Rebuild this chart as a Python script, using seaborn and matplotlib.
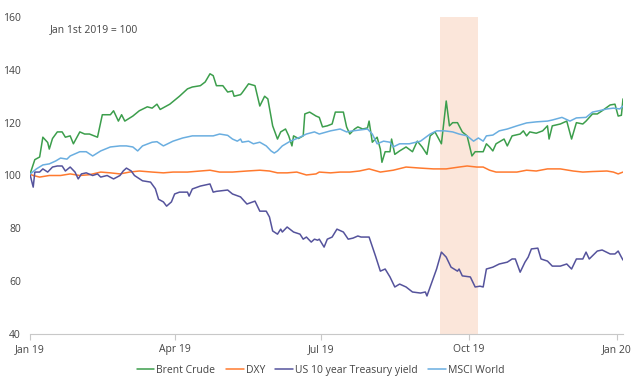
import pandas as pd
import seaborn as sns
import matplotlib.pyplot as plt

# days since Jan 1st 2019, index values (Jan 1st 2019 = 100)
brent_days = [0, 3, 6, 8, 11, 12, 14, 17, 20, 22, 25, 27, 31, 34, 37, 42, 45, 50, 52, 55,
              57, 59, 64, 68, 73, 76, 79, 81, 87, 93, 98, 101, 106, 109, 112, 114, 116, 120, 123, 126,
              127, 131, 132, 136, 140, 143, 146, 148, 151, 154, 156, 159, 161, 163, 164, 167, 170, 171, 174, 178,
              180, 182, 185, 188, 190, 195, 197, 199, 202, 204, 207, 210, 211, 213, 216, 218, 219, 221, 224, 225,
              227, 230, 234, 238, 241, 244, 247, 249, 252, 256, 259, 261, 263, 266, 269, 272, 275, 277, 282, 284,
              286, 288, 290, 295, 297, 300, 305, 307, 309, 311, 315, 319, 322, 323, 325, 330, 334, 337, 340, 344,
              346, 350, 353, 356, 361, 364, 366, 368, 369]
brent = [100.5, 106, 107, 114.5, 112.5, 110, 114, 116.5, 116.5, 114.5, 115, 112, 116.5, 115.7, 115.7, 114.5, 123, 123, 124.5, 120.6,
         123, 120.6, 122.5, 124.5, 126, 125.5, 127, 125, 127, 130, 132.8, 133.5, 134, 135.4, 138.5, 137.8, 134, 134, 131.6, 132,
         130, 130.6, 131.3, 134.7, 134, 126.3, 130, 129, 118.8, 113.8, 116.5, 117.6, 115, 111.2, 115, 114, 115, 123.3, 124, 122.5,
         122, 118.4, 118.8, 119.5, 124, 124, 118.4, 115.7, 117.6, 118.4, 117.6, 118, 120.6, 112.6, 114.5, 110, 105, 109, 109, 113.8,
         108, 109.3, 110.8, 109, 113, 110.8, 108, 115, 116.5, 112, 128.2, 118.8, 120, 120, 116.5, 115, 107.4, 109, 109, 112,
         110.8, 109.3, 112, 113.8, 111.2, 115, 115.7, 116.9, 115, 116.5, 116, 116.9, 118.8, 113.8, 118.8, 119.5, 120.6, 113.8, 120, 119.5,
         120.6, 123.3, 123.3, 124.5, 126.7, 127, 122.5, 122.8, 129]

dxy_days = [0, 2, 6, 12, 19, 25, 31, 37, 44, 50, 56, 62, 68, 76, 83, 89, 98, 106, 112, 118,
            126, 135, 143, 149, 154, 160, 166, 172, 178, 180, 187, 193, 199, 205, 211, 218, 226, 234, 243, 251,
            259, 267, 272, 278, 282, 286, 290, 297, 303, 309, 315, 322, 330, 338, 344, 350, 359, 363, 366, 369]
dxy = [100.5, 100, 99.4, 100, 100, 100.6, 100, 100.3, 101.3, 101, 100.6, 101.3, 101.7, 101.3, 101, 101.3, 101.3, 101.7, 102, 101.3,
       101.3, 101.7, 102, 101.7, 101, 101, 101.3, 100.2, 100.6, 101.3, 101, 101.3, 101.3, 101.7, 102.5, 101.3, 102, 103.2, 102.8, 102.5,
       102.5, 103.2, 103.6, 103.2, 103.2, 102, 101.3, 101.3, 101.3, 102, 101.7, 102.5, 102.5, 101.7, 101.3, 101.5, 101.7, 101.3, 100.6, 101.3]

ust_days = [0, 1, 2, 3, 6, 8, 11, 14, 17, 20, 22, 25, 28, 30, 32, 35, 39, 42, 44, 48,
            52, 56, 58, 60, 63, 65, 70, 75, 78, 80, 83, 85, 88, 90, 93, 98, 99, 101, 106, 112,
            114, 116, 123, 126, 131, 135, 140, 143, 147, 149, 151, 154, 156, 157, 160, 164, 168, 170, 172, 175,
            177, 179, 180, 183, 185, 188, 191, 195, 198, 201, 204, 206, 211, 215, 218, 221, 224, 227, 230, 234,
            238, 243, 246, 247, 249, 253, 256, 259, 262, 266, 267, 269, 274, 277, 280, 282, 284, 288, 292, 297,
            300, 302, 305, 308, 310, 312, 316, 318, 322, 325, 330, 334, 337, 340, 344, 346, 348, 353, 356, 361,
            364, 366, 368, 369]
ust = [100.5, 98, 95.6, 101.3, 101.3, 102.5, 101.3, 103.2, 103.6, 103.6, 101.7, 103.2, 101.3, 98.7, 100.6, 101, 100, 100.6, 99.4, 100,
       98.7, 100, 101.7, 102.8, 101.7, 100, 98, 97.5, 95, 91, 90, 88.4, 90, 93, 93.7, 93.7, 92.2, 94.9, 96, 96.8,
       93.7, 94, 94.5, 93, 91.9, 89.2, 90.3, 86.5, 86.5, 84.3, 79, 77.8, 79.7, 78.6, 80.5, 78.6, 77.8, 75.9, 76.7, 74.8,
       75.9, 75.5, 75.9, 72.9, 75.9, 76.7, 79.7, 78.6, 75.9, 76.3, 77.1, 76.7, 76.7, 69.5, 63.8, 64.6, 61.6, 57.8, 58.9, 57.8,
       55.9, 55.5, 55.9, 54.4, 57.8, 64.6, 71, 69.1, 65.3, 63.8, 64.6, 62, 61.6, 57.8, 58.1, 57.8, 64.6, 65.3, 66.5, 67.2,
       68.4, 68.4, 63.4, 67.2, 69.1, 72.2, 72.5, 68.4, 67.6, 65.7, 65.7, 66.5, 64.6, 68.4, 68.4, 71, 68.4, 71.4, 71.8, 70.3,
       70.3, 71.4, 69.1, 68]

msci_days = [0, 4, 8, 12, 16, 19, 23, 25, 31, 35, 39, 44, 50, 56, 60, 64, 67, 70, 76, 79,
             83, 89, 95, 101, 108, 114, 118, 123, 126, 129, 131, 132, 136, 139, 143, 147, 150, 152, 154, 157,
             162, 168, 172, 177, 180, 187, 193, 197, 201, 210, 213, 216, 220, 224, 226, 230, 236, 243, 249, 253,
             258, 263, 267, 272, 276, 279, 282, 284, 288, 292, 297, 303, 309, 315, 322, 325, 331, 336, 340, 346,
             350, 354, 359, 363, 367, 369]
msci = [100.5, 102.5, 104, 104.4, 105.5, 106.6, 106.2, 107.4, 109, 109, 107.4, 109.3, 110.8, 111.2, 111.2, 110.8, 109.3, 111.2, 112.6, 112.8,
        111.2, 113, 114.2, 115, 115, 115, 115.7, 115.2, 113.8, 113, 113.8, 112.6, 113, 112, 112.6, 111.2, 109.3, 108.5, 109.3, 111.2,
        113, 114.5, 115.7, 116.5, 115.7, 116.9, 117.6, 116.5, 116.9, 117.6, 115.7, 112, 113, 112.6, 110.8, 112, 112, 113, 115.7, 116.9,
        116.9, 116.5, 115.7, 115, 113, 114.2, 113, 115, 115.3, 116.9, 117.6, 118.8, 119.9, 120.3, 120.6, 121, 122, 120.6, 121.8, 122,
        124, 124.5, 125.2, 125.5, 125.2, 126.3]

series_names = ["Brent Crude", "DXY", "US 10 year Treasury yield", "MSCI World"]
series_colors = ["#3C9E4C", "#FF7A2F", "#55539C", "#6AAEE0"]
shade_start, shade_end = "2019-09-13", "2019-10-07"
tick_dates = ["2019-01-01", "2019-04-01", "2019-07-01", "2019-10-01", "2020-01-01"]
tick_labels = ["Jan 19", "Apr 19", "Jul 19", "Oct 19", "Jan 20"]

start = pd.Timestamp("2019-01-01")
frames = []
for name, days, vals in [(series_names[0], brent_days, brent), (series_names[1], dxy_days, dxy),
                         (series_names[2], ust_days, ust), (series_names[3], msci_days, msci)]:
    frames.append(pd.DataFrame({"date": start + pd.to_timedelta(days, unit="D"), "value": vals, "series": name}))
df = pd.concat(frames, ignore_index=True)

sns.set_theme(style="white")
plt.rcParams["font.family"] = ["Open Sans", "DejaVu Sans"]

fig = plt.figure(figsize=(6.4, 3.86), dpi=100)
ax = fig.add_axes([30 / 640, 52 / 386, 593 / 640, 317 / 386])

ax.axvspan(pd.Timestamp(shade_start), pd.Timestamp(shade_end), color="#FBE6DA", lw=0, zorder=0)
sns.lineplot(data=df, x="date", y="value", hue="series", hue_order=series_names,
             palette=series_colors, estimator=None, sort=False, lw=1.1, ax=ax)

ax.set_ylim(40, 160)
ax.set_xlim(start, pd.Timestamp("2020-01-05"))
ax.set_yticks([40, 60, 80, 100, 120, 140, 160])
ax.set_xticks(pd.to_datetime(tick_dates))
ax.set_xticklabels(tick_labels)
ax.set_xlabel("")
ax.set_ylabel("")
ax.tick_params(axis="x", length=4, width=0.8, color="#C8C8C8", labelcolor="#444444", labelsize=7.5, pad=3,
               direction="out", bottom=True)
ax.tick_params(axis="y", length=0, labelcolor="#444444", labelsize=7.5, pad=6.5)
for s in ["top", "right", "left"]:
    ax.spines[s].set_visible(False)
ax.spines["bottom"].set_color("#C8C8C8")
ax.spines["bottom"].set_linewidth(0.8)

ax.text(20 / 593, 304 / 317, "Jan 1st 2019 = 100", transform=ax.transAxes,
        fontsize=7.5, color="#444444", va="center", ha="left")

sns.move_legend(ax, "center", bbox_to_anchor=(0.49, -0.115), ncol=4, frameon=False, title=None,
                fontsize=7.5, handlelength=1.7, handletextpad=0.2, columnspacing=1.0)
for t in ax.get_legend().get_texts():
    t.set_color("#444444")

fig.savefig("out.png", dpi=100)
